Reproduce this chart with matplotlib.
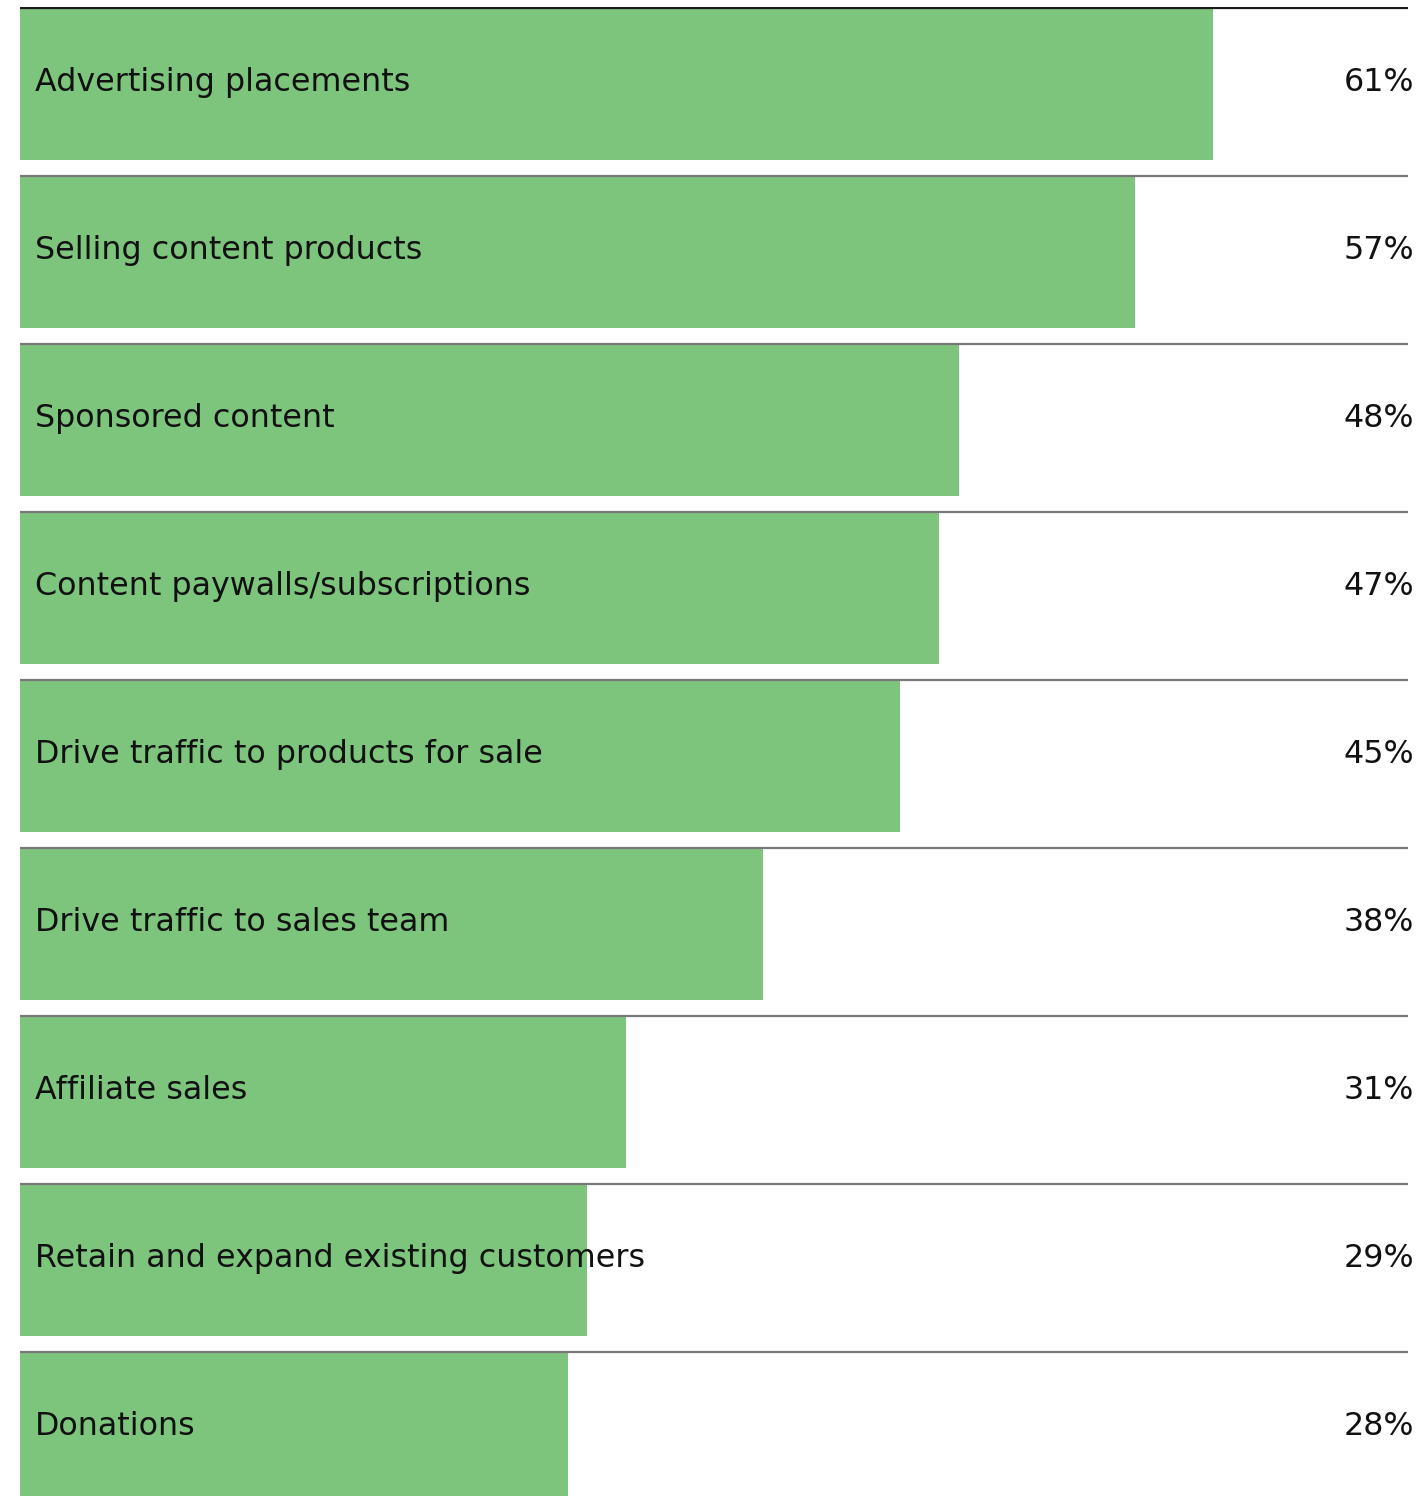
import matplotlib
matplotlib.use("Agg")
import matplotlib.pyplot as plt
from matplotlib.transforms import blended_transform_factory

categories = [
    "Advertising placements",
    "Selling content products",
    "Sponsored content",
    "Content paywalls/subscriptions",
    "Drive traffic to products for sale",
    "Drive traffic to sales team",
    "Affiliate sales",
    "Retain and expand existing customers",
    "Donations",
]
values = [61, 57, 48, 47, 45, 38, 31, 29, 28]

W, H = 1424, 1496
fig = plt.figure(figsize=(W / 100, H / 100), dpi=100)
fig.patch.set_facecolor("white")

# axes box in pixels: rows of 168 px, first rule at y=8
left, right, top = 20, 1408, 7
ax = fig.add_axes([left / W, 0, (right - left) / W, (H - top) / H])

row = 168.0
bar_h = 152 / row
xmax = 70.96

ax.barh(range(len(values)), values, height=bar_h, align="edge",
        color="#7dc47d", edgecolor="none", zorder=1)

for i in range(len(values)):
    ax.hlines(i, 0, xmax, color="#1a1a1a" if i == 0 else "#777777",
              linewidth=1.6, zorder=3)

ax.set_xlim(0, xmax)
ax.set_ylim((H - top) / row - 1 / row, -1 / row)
ax.axis("off")

fs = 22.9
for i, cat in enumerate(categories):
    yc = i + bar_h / 2 - 0.008
    ax.text(0.75, yc, cat, va="center", ha="left", fontsize=fs,
            color="#111111", zorder=4)

tr = blended_transform_factory(fig.transFigure, ax.transData)
for i, v in enumerate(values):
    ax.text(1414 / W, i + bar_h / 2 - 0.008, f"{v}%", transform=tr,
            va="center", ha="right", fontsize=fs, color="#111111",
            clip_on=False)

fig.savefig("out.png", dpi=100, facecolor="white")
